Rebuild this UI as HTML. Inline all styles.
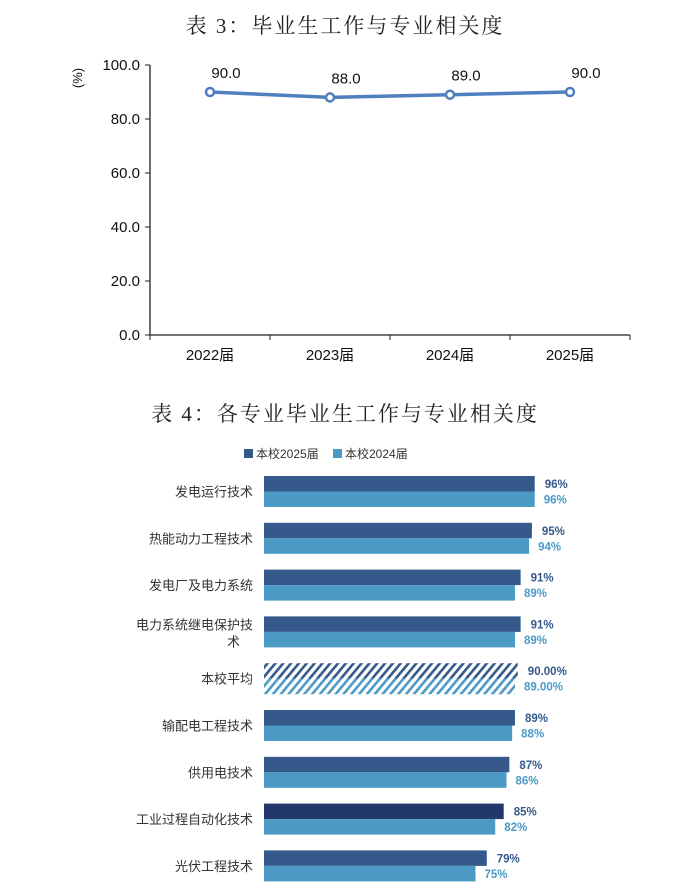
<!DOCTYPE html>
<html><head><meta charset="utf-8">
<style>
html,body{margin:0;padding:0;background:#fff;}
body{width:686px;height:896px;overflow:hidden;}
svg{display:block;}
.t{font-family:"Liberation Serif","Noto Serif CJK SC",serif;font-size:21px;fill:#222;letter-spacing:2px;}
.s{font-family:"Liberation Sans","Noto Sans CJK SC",sans-serif;}
</style></head>
<body>
<svg id="chart" width="686" height="896">
<defs>
<pattern id="hd" width="6" height="6" patternUnits="userSpaceOnUse" patternTransform="rotate(40)"><rect width="6" height="6" fill="#fff"/><rect width="2.6" height="6" fill="#34598a"/></pattern>
<pattern id="hl" width="6" height="6" patternUnits="userSpaceOnUse" patternTransform="rotate(40)"><rect width="6" height="6" fill="#fff"/><rect width="2.6" height="6" fill="#4b9ac6"/></pattern>
</defs>
<text class="t" x="345" y="33" text-anchor="middle">表 3：毕业生工作与专业相关度</text>
<g id="line"></g>
<text class="t" x="345" y="421" text-anchor="middle">表 4：各专业毕业生工作与专业相关度</text>
<g>
<rect x="244" y="449" width="9" height="9" fill="#34598a"/>
<text class="s" x="256" y="458" font-size="12" fill="#333">本校2025届</text>
<rect x="333" y="449" width="9" height="9" fill="#4b9ac6"/>
<text class="s" x="345" y="458" font-size="12" fill="#333">本校2024届</text>
</g>
<g id="bars"></g>
</svg>
<script>
const years=["2022届","2023届","2024届","2025届"];
const relevance=[90.0,88.0,89.0,90.0];
const yTicks=[0,20,40,60,80,100];
const majors=["发电运行技术","热能动力工程技术","发电厂及电力系统","电力系统继电保护技术","本校平均","输配电工程技术","供用电技术","工业过程自动化技术","光伏工程技术"];
const v2025=[96,95,91,91,90,89,87,85,79];
const v2024=[96,94,89,89,89,88,86,82,75];
const NS="http://www.w3.org/2000/svg";
function mk(p,t,a,txt){const e=document.createElementNS(NS,t);for(const k in a)e.setAttribute(k,a[k]);if(txt!=null)e.textContent=txt;p.appendChild(e);return e;}
const L=document.getElementById('line');
const x0=150,x1=630,yTop=65,yBot=335;
const ly=v=>yBot-(v/100)*(yBot-yTop);
const lx=i=>x0+(i+0.5)*(x1-x0)/years.length;
let e;
e=mk(L,'line',{x1:x0,y1:yTop,x2:x0,y2:yBot,stroke:'#222','stroke-width':1.3});

e=mk(L,'line',{x1:x0,y1:yBot,x2:x1,y2:yBot,stroke:'#222','stroke-width':1.3});

yTicks.forEach(t=>{
 mk(L,'line',{x1:x0-5,y1:ly(t),x2:x0,y2:ly(t),stroke:'#222'});
 e=mk(L,'text',{class:'s',x:x0-10,y:ly(t)+5,'text-anchor':'end','font-size':15,fill:'#111'},t.toFixed(1));
 
});
for(let i=0;i<=years.length;i++){mk(L,'line',{x1:x0+i*(x1-x0)/years.length,y1:yBot,x2:x0+i*(x1-x0)/years.length,y2:yBot+5,stroke:'#222'});}
e=mk(L,'text',{class:'s',x:0,y:0,transform:'translate(82,78) rotate(-90)','text-anchor':'middle','font-size':13,fill:'#111'},'(%)');

years.forEach((y,i)=>{e=mk(L,'text',{class:'s',x:lx(i),y:yBot+25,'text-anchor':'middle','font-size':15,fill:'#111'},y);
 });
e=mk(L,'polyline',{points:relevance.map((v,i)=>lx(i)+','+ly(v)).join(' '),fill:'none',stroke:'#4f7fbf','stroke-width':3.5});

relevance.forEach((v,i)=>{
 e=mk(L,'circle',{cx:lx(i),cy:ly(v),r:4,fill:'#fff',stroke:'#4f7fbf','stroke-width':2.5});
 
 e=mk(L,'text',{class:'s',x:lx(i)+16,y:ly(v)-14,'text-anchor':'middle','font-size':15,fill:'#111'},v.toFixed(1));
 
});
const B=document.getElementById('bars');
const bx0=264,pxPer=2.82,rowTop=476,pitch=46.8,bh=15.5;
const bw=v=>v*pxPer;
majors.forEach((m,i)=>{
 const y=rowTop+i*pitch;
 const avg=m==="本校平均";
 e=mk(B,'rect',{x:bx0,y:y,width:bw(v2025[i]),height:bh,fill:avg?'url(#hd)':(i===7?'#22386a':'#34598a')});
 
 e=mk(B,'rect',{x:bx0,y:y+bh,width:bw(v2024[i]),height:bh,fill:avg?'url(#hl)':'#4b9ac6'});
 
 const lab=avg?v2025[i].toFixed(2)+'%':v2025[i]+'%';
 const lab2=avg?v2024[i].toFixed(2)+'%':v2024[i]+'%';
 e=mk(B,'text',{class:'s',x:bx0+bw(v2025[i])+10,y:y+12,'font-size':11.5,'font-weight':'bold',fill:'#34598a'},lab);
 
 e=mk(B,'text',{class:'s',x:bx0+bw(v2024[i])+9,y:y+bh+12,'font-size':11.5,'font-weight':'bold',fill:'#4b9ac6'},lab2);
 
 if(m.length>9){
  e=mk(B,'text',{class:'s',x:253,y:y+13,'text-anchor':'end','font-size':13,fill:'#333'},m.slice(0,9));
  
  e=mk(B,'text',{class:'s',x:240,y:y+30,'text-anchor':'end','font-size':13,fill:'#333'},m.slice(9));
  
 }else{
  e=mk(B,'text',{class:'s',x:253,y:y+bh+5,'text-anchor':'end','font-size':13,fill:'#333'},m);
  
 }
});
</script>
</body></html>
